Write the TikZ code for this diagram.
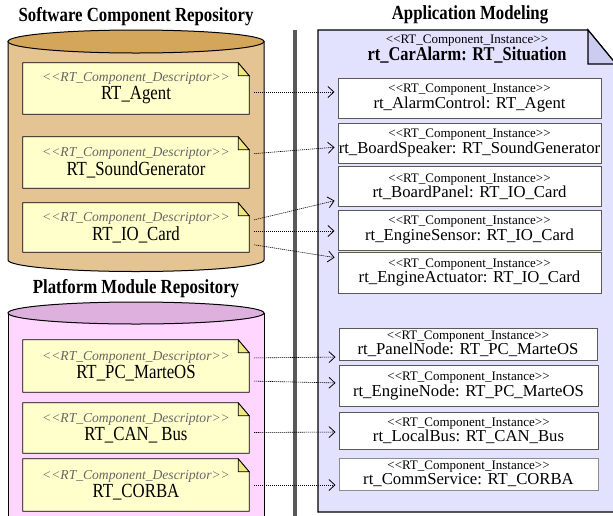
\documentclass[tikz,border=0pt]{standalone}
\usepackage{fontspec}
\setmainfont[FakeStretch=0.84]{Liberation Serif}
\newfontfamily\plainserif{Liberation Serif}
\usetikzlibrary{arrows.meta,backgrounds}

\definecolor{repoTan}{RGB}{229,196,148}
\definecolor{repoTanTop}{RGB}{212,166,92}
\definecolor{repoPink}{RGB}{255,214,255}
\definecolor{repoPinkTop}{RGB}{222,176,222}
\definecolor{noteYellow}{RGB}{255,255,204}
\definecolor{noteFold}{RGB}{240,232,130}
\definecolor{modelBlue}{RGB}{226,226,255}
\definecolor{modelFold}{RGB}{204,204,240}

% stereotyped labels (kerns keep << >> from turning into guillemets)
\newcommand{\stOpen}{<\kern0pt<}
\newcommand{\stClose}{>\kern0pt>}
\newcommand{\descr}[1]{{\plainserif\fontsize{13.6}{15}\selectfont\itshape\color{black!60}\stOpen RT\_Component\_Descriptor\stClose}\\[1pt]{\fontsize{20}{21}\selectfont #1}}
\newcommand{\inst}[1]{{\plainserif\fontsize{13}{13}\selectfont \stOpen RT\_Component\_Instance\stClose}\\{\plainserif\fontsize{16.7}{18}\selectfont #1}}

\begin{document}
\begin{tikzpicture}[x=1pt,y=-1pt,
    title/.style={font=\fontsize{20}{20}\selectfont\bfseries},
    descbox/.style={minimum width=226pt, inner sep=0pt, align=center},
    instbox/.style={draw=black!65, fill=white, line width=1pt,
      minimum width=263pt, inner sep=0pt, align=center},
    depends/.style={dash pattern=on 1.2pt off 0.8pt, line width=0.6pt,
      -{Straight Barb[length=6pt,width=11pt,line width=0.8pt]},
      shorten <=5pt, shorten >=3pt}
  ]
  \useasboundingbox (0,0) rectangle (613,515);
  \clip (0,0) rectangle (613,515);

  % repositories
  \begin{pgfonlayer}{background}
    \fill[white] (0,0) rectangle (613,515);
    \filldraw[fill=repoTan, line width=1pt] (8,41.5) -- (8,260)
      arc[start angle=180, end angle=0, x radius=128, y radius=11.5] -- (264,41.5) -- cycle;
    \filldraw[fill=repoTanTop, line width=1pt] (136,41.5) ellipse[x radius=128, y radius=11.5];
    \filldraw[fill=repoPink, line width=1pt] (8,313) -- (8,540) -- (264,540) -- (264,313) -- cycle;
    \filldraw[fill=repoPinkTop, line width=1pt] (136,313) ellipse[x radius=128, y radius=11];
  \end{pgfonlayer}
  \draw[line width=3.5pt, black!65] (295,30) -- (295,520);

  % application model
  \filldraw[fill=modelBlue, line width=1.2pt] (318,30) -- (588,30) -- (616,64) -- (616,512) -- (318,512) -- cycle;
  \filldraw[fill=modelFold, line width=1.2pt] (588,30) -- (588,64) -- (616,64) -- cycle;

  \node[title] (swTitle) at (136,17) {Software Component Repository};
  \node[title] (pfTitle) at (136,289) {Platform Module Repository};
  \node[title] (appTitle) at (470,15) {Application Modeling};

  \node[align=center, inner sep=0pt] (situation) at (467,49)
    {{\plainserif\fontsize{13}{13}\selectfont \stOpen RT\_Component\_Instance\stClose}\\{\fontsize{19.5}{19}\selectfont\bfseries rt\_CarAlarm: RT\_Situation}};

  \node[descbox, minimum height=51pt] (agent) at (136,88.5) {\descr{RT\_Agent}};
  \node[descbox, minimum height=51pt] (sound) at (136,162.5) {\descr{RT\_SoundGenerator}};
  \node[descbox, minimum height=49pt] (ioCard) at (136,227.5) {\descr{RT\_IO\_Card}};
  \node[descbox, minimum height=52pt] (marte) at (136,366) {\descr{RT\_PC\_MarteOS}};
  \node[descbox, minimum height=50pt] (canBus) at (136,428) {\descr{RT\_CAN\_ Bus}};
  \node[descbox, minimum height=52pt] (corba) at (136,485) {\descr{RT\_CORBA}};

  \begin{pgfonlayer}{background}
    \foreach \n in {agent,sound,ioCard,marte,canBus,corba}{
      \filldraw[fill=noteYellow, line width=0.8pt] (\n.south west) -- (\n.north west)
        -- ([xshift=-11pt]\n.north east) -- ([yshift=-13pt]\n.north east) -- (\n.south east) -- cycle;
      \filldraw[fill=noteFold, line width=0.8pt] ([xshift=-11pt]\n.north east)
        -- ([xshift=-11pt,yshift=-13pt]\n.north east) -- ([yshift=-13pt]\n.north east) -- cycle;
    }
  \end{pgfonlayer}

  \node[instbox, minimum height=40pt] (alarmCtl) at (469.5,98) {\inst{rt\_AlarmControl: RT\_Agent}};
  \node[instbox, minimum height=40pt] (speaker) at (469.5,143) {\inst{rt\_BoardSpeaker: RT\_SoundGenerator}};
  \node[instbox, minimum height=40pt] (panel) at (469.5,186.5) {\inst{rt\_BoardPanel: RT\_IO\_Card}};
  \node[instbox, minimum height=40pt] (sensor) at (469.5,230) {\inst{rt\_EngineSensor: RT\_IO\_Card}};
  \node[instbox, minimum height=41pt] (actuator) at (469.5,272.5) {\inst{rt\_EngineActuator: RT\_IO\_Card}};
  \node[instbox, minimum height=32pt, minimum width=258pt] (panelNode) at (468,344) {\inst{rt\_PanelNode: RT\_PC\_MarteOS}};
  \node[instbox, minimum height=41pt, minimum width=259pt] (engineNode) at (468.5,386) {\inst{rt\_EngineNode: RT\_PC\_MarteOS}};
  \node[instbox, minimum height=37pt, minimum width=259pt] (localBus) at (468.5,430.5) {\inst{rt\_LocalBus: RT\_CAN\_Bus}};
  \node[instbox, minimum height=32pt, minimum width=259pt, draw=black!45] (commService) at (468.5,474) {\inst{rt\_CommService: RT\_CORBA}};

  \draw[depends] ([yshift=-3.5pt]agent.east) -- ([yshift=6pt]alarmCtl.west);
  \draw[depends] ([yshift=8.5pt]sound.east) -- ([yshift=-4pt]speaker.west);
  \draw[depends] ([yshift=6.5pt]ioCard.east) -- ([yshift=-13.5pt]panel.west);
  \draw[depends] ([yshift=-3.5pt]ioCard.east) -- ([yshift=-1pt]sensor.west);
  \draw[depends] ([yshift=-16.5pt]ioCard.east) -- ([yshift=14.5pt]actuator.west);
  \draw[depends] ([yshift=8pt]marte.east) -- ([yshift=-13pt]panelNode.west);
  \draw[depends] ([yshift=-15pt]marte.east) -- ([yshift=3pt]engineNode.west);
  \draw[depends] ([yshift=-4.5pt]canBus.east) -- ([yshift=-1.5pt]localBus.west);
  \draw[depends] (corba.east) -- ([yshift=-11pt]commService.west);
\end{tikzpicture}
\end{document}
